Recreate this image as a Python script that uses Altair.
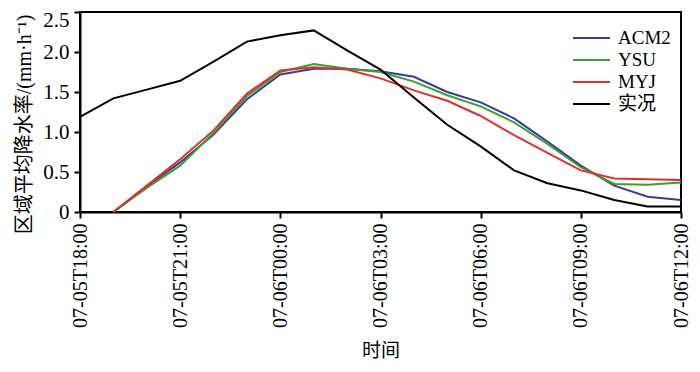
import altair as alt
import pandas as pd

tick_labels = ["07-05T18:00", "07-05T21:00", "07-06T00:00", "07-06T03:00",
               "07-06T06:00", "07-06T09:00", "07-06T12:00"]
hours = list(range(19))  # hours after 07-05T18:00

acm2 = [None, 0.0, 0.32, 0.62, 0.97, 1.41, 1.72, 1.79, 1.79, 1.76, 1.69, 1.50, 1.37, 1.17, 0.88, 0.58, 0.33, 0.19, 0.15]
ysu = [None, 0.0, 0.30, 0.58, 0.99, 1.45, 1.75, 1.85, 1.79, 1.75, 1.63, 1.46, 1.32, 1.12, 0.85, 0.56, 0.35, 0.34, 0.37]
myj = [None, 0.0, 0.33, 0.66, 1.02, 1.48, 1.77, 1.81, 1.78, 1.67, 1.52, 1.39, 1.20, 0.96, 0.74, 0.52, 0.42, 0.41, 0.40]
obs = [1.19, 1.42, 1.53, 1.64, 1.88, 2.13, 2.21, 2.27, 2.02, 1.78, 1.43, 1.09, 0.82, 0.52, 0.36, 0.27, 0.15, 0.07, 0.07]

series_names = ["ACM2", "YSU", "MYJ", "实况"]
series_colors = ["#3b3b98", "#3a9e35", "#e0302c", "#000000"]

rows = []
for name, vals in zip(series_names, [acm2, ysu, myj, obs]):
    for h, v in zip(hours, vals):
        if v is not None:
            rows.append({"hour": h, "value": v, "series": name})
df = pd.DataFrame(rows)

font = "Liberation Serif, Noto Sans CJK SC, serif"
label_expr = "[" + ",".join("'" + t + "'" for t in tick_labels) + "][round(datum.value/3)]"

chart = alt.Chart(df).mark_line(strokeWidth=2).encode(
    x=alt.X("hour:Q",
            scale=alt.Scale(domain=[0, 18], nice=False, zero=False),
            axis=alt.Axis(values=[0, 3, 6, 9, 12, 15, 18], labelExpr=label_expr,
                          labelAngle=270, labelAlign="right", labelBaseline="middle",
                          labelFontSize=20,
                          title="时间", titlePadding=14, titleFontSize=19)),
    y=alt.Y("value:Q",
            scale=alt.Scale(domain=[0, 2.5], nice=False),
            axis=alt.Axis(values=[0, 0.5, 1.0, 1.5, 2.0, 2.5],
                          labelExpr="datum.value == 0 ? '0' : format(datum.value, '.1f')",
                          labelFontSize=21,
                          labelOffset={"expr": "datum.value == 2.5 ? 8 : 0"},
                          title="区域平均降水率/(mm·h⁻¹)", titlePadding=8,
                          titleFontSize=20, titleY=112, titleAlign="center")),
    color=alt.Color("series:N",
                    scale=alt.Scale(domain=series_names, range=series_colors),
                    sort=series_names,
                    legend=alt.Legend(title=None, orient="none", legendX=492, legendY=16,
                                      symbolType="stroke", symbolSize=1369,
                                      symbolStrokeWidth=2, labelFontSize=19,
                                      labelFont=font, rowPadding=2, padding=0,
                                      clipHeight=20,
                                      symbolOffset=0, labelOffset=7)),
    order=alt.Order("hour:Q"),
).properties(
    width=601, height=200,
    autosize=alt.AutoSizeParams(type="none"),
    padding={"left": 72, "top": 4, "right": 10, "bottom": 150},
).configure_view(
    stroke="black", strokeWidth=2
).configure_axis(
    domainColor="black", domainWidth=2, tickColor="black", tickWidth=2, tickSize=6,
    labelColor="black", labelFont=font, titleFont=font,
    titleColor="black", titleFontWeight="normal",
    grid=False, labelPadding=5
)

chart.save("out.html", embed_options={"renderer": "svg", "actions": False})
